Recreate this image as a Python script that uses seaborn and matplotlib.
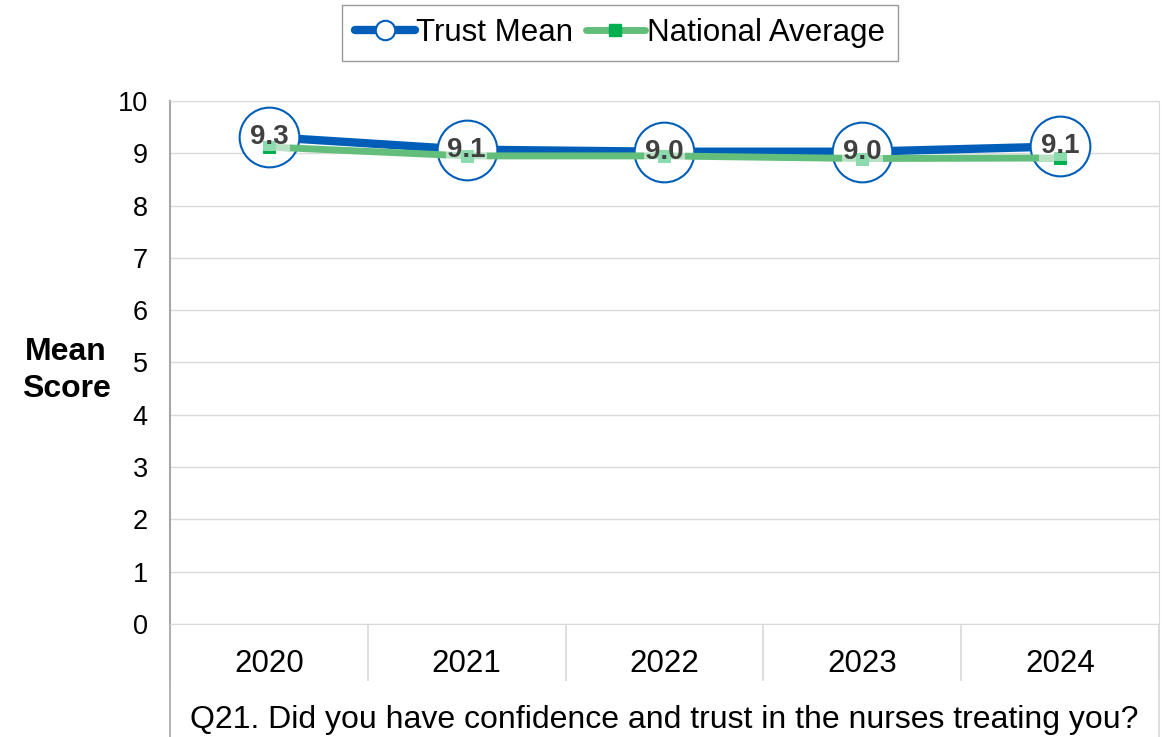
import matplotlib.pyplot as plt
import pandas as pd
import seaborn as sns
from matplotlib.lines import Line2D

years = ["2020", "2021", "2022", "2023", "2024"]
trust_mean = [9.31, 9.07, 9.03, 9.03, 9.13]
national_avg = [9.12, 8.95, 8.95, 8.90, 8.91]
question = "Q21. Did you have confidence and trust in the nurses treating you?"

blue = "#005EB8"
green_line = "#63BE7B"
green_marker = "#00B050"
grey = "#D9D9D9"

df = pd.DataFrame({"pos": range(len(years)), "trust": trust_mean, "national": national_avg})

sns.set_style("white")
plt.rcParams["font.family"] = ["Liberation Sans", "DejaVu Sans"]
plt.rcParams.update({"text.color": "black", "axes.labelcolor": "black",
                     "xtick.color": "black", "ytick.color": "black"})

fig = plt.figure(figsize=(11.73, 7.37), dpi=100)
ax = fig.add_axes([0.1449, 0.1533, 0.988 - 0.1449, 0.863 - 0.1533])

sns.lineplot(data=df, x="pos", y="trust", ax=ax, color=blue, linewidth=6,
             marker="o", markersize=43, markerfacecolor="white",
             markeredgecolor=blue, markeredgewidth=1.5, zorder=3)
sns.lineplot(data=df, x="pos", y="national", ax=ax, color=green_line, linewidth=5,
             marker="s", markersize=9, markerfacecolor=green_marker,
             markeredgecolor=green_marker, zorder=4)

for i, v in enumerate(trust_mean):
    ax.text(i, v, f"{v:.1f}", ha="center", va="center", fontsize=20, fontweight="bold",
            color="#404040", zorder=5,
            bbox=dict(boxstyle="square,pad=0.05", facecolor="white", edgecolor="none", alpha=0.55))

ax.set_xlim(-0.5, len(years) - 0.5)
ax.set_ylim(0, 10)
ax.set_yticks(range(0, 11))
ax.yaxis.grid(True, color=grey, linewidth=1)
ax.set_axisbelow(True)

ax.set_xticks(range(len(years)))
ax.set_xticklabels(years, fontsize=22.5)
ax.set_xticks([i - 0.5 for i in range(len(years) + 1)], minor=True)
ax.tick_params(axis="x", which="major", length=0, pad=18)
ax.tick_params(axis="x", which="minor", bottom=True, length=41, width=1.2,
               color=grey, direction="out")
ax.tick_params(axis="y", labelsize=19.5, length=0, pad=16)

for side in ["top", "right", "bottom"]:
    ax.spines[side].set_color(grey)
ax.spines["left"].set_color("#A6A6A6")
ax.spines["left"].set_linewidth(1.5)

# outer table borders running down past the question text
for x in [-0.5, len(years) - 0.5]:
    ax.plot([x, x], [0, -2.3], color=grey if x > 0 else "#A6A6A6", linewidth=1.2,
            clip_on=False, zorder=1)

ax.set_xlabel(question, fontsize=23, labelpad=14)
ax.set_ylabel("Mean\nScore", fontsize=23, fontweight="bold", rotation=0,
              va="center", ha="center", linespacing=1.3)
ax.yaxis.set_label_coords(-0.105, 0.485)

handles = [
    Line2D([], [], color=blue, linewidth=6, marker="o", markersize=14,
           markerfacecolor="white", markeredgecolor=blue, markeredgewidth=1.5),
    Line2D([], [], color=green_line, linewidth=5, marker="s", markersize=9,
           markerfacecolor=green_marker, markeredgecolor=green_marker),
]
fig.legend(handles, ["Trust Mean", "National Average"], loc="upper center",
           bbox_to_anchor=(620 / 1173, 1 - 5 / 737), ncol=2, fontsize=22.5,
           frameon=True, fancybox=False, edgecolor="#808080", handlelength=1.9,
           handletextpad=0.05, columnspacing=0.4, borderpad=0.42, borderaxespad=0)

plt.savefig("out.png", dpi=100)
plt.close("all")
